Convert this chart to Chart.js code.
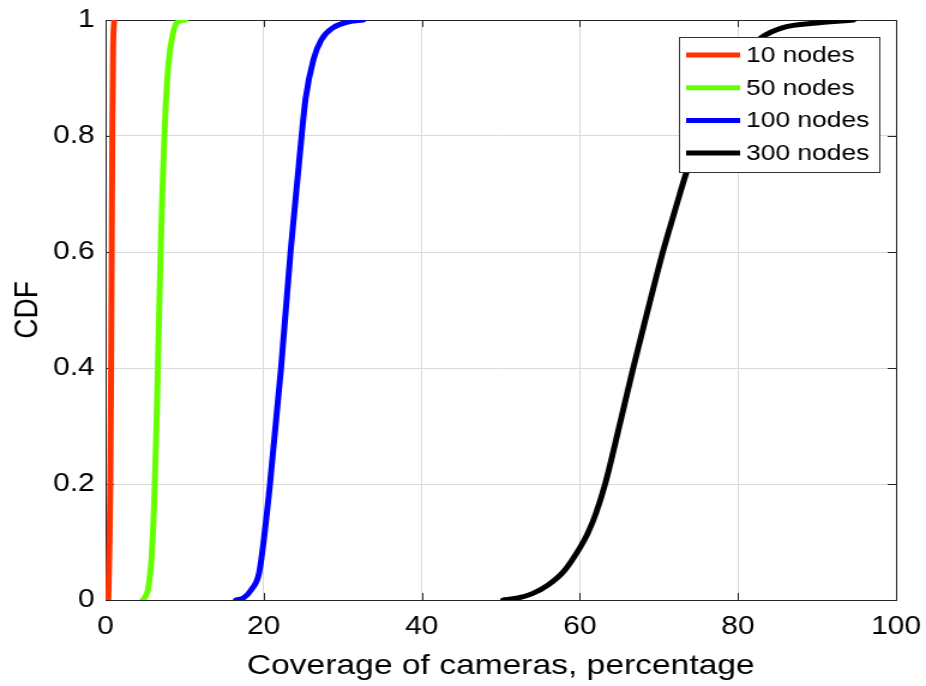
<!DOCTYPE html>
<html>
<head>
<meta charset="utf-8">
<script src="https://cdn.jsdelivr.net/npm/chart.js@4.4.1/dist/chart.umd.min.js"></script>
<style>
  html, body { margin: 0; padding: 0; background: #fff; overflow: hidden; }
</style>
</head>
<body>
<!-- canvas is drawn narrower and widened by css, like the wide original figure -->
<canvas id="cdfChart" width="772" height="686" style="display:block;width:926px;height:686px"></canvas>
<script>
// Coverage (%) vs CDF for each network size
const nodes10X = [0.35, 0.5, 0.6, 0.7, 0.78, 0.85, 0.95, 1.1];
const nodes10Y = [0, 0.1, 0.2, 0.4, 0.6, 0.8, 0.95, 1];

const nodes50X = [4.7, 5.0, 5.4, 5.8, 6.1, 6.4, 6.7, 7.0, 7.3, 7.6, 8.0, 8.5, 9.0, 10.1];
const nodes50Y = [0, 0.005, 0.02, 0.07, 0.15, 0.28, 0.45, 0.62, 0.75, 0.85, 0.93, 0.975, 0.995, 1];

const nodes100X = [16.5, 17.5, 18.4, 19.4, 19.8, 20.8, 22.2, 23.4, 24.8, 25.3, 26.3, 27.3, 28.8, 30.5, 32.6];
const nodes100Y = [0, 0.004, 0.017, 0.045, 0.08, 0.2, 0.4, 0.6, 0.8, 0.864, 0.932, 0.966, 0.987, 0.996, 1];

const nodes300X = [50.3, 52, 54, 56, 58, 60, 61, 62, 63.2, 65, 66.75, 68.6, 70.5, 72, 73.5, 75.2, 76.8, 78.7, 80.7, 83, 85.7, 90, 94.6];
const nodes300Y = [0, 0.003, 0.011, 0.026, 0.05, 0.09, 0.115, 0.148, 0.2, 0.3, 0.4, 0.5, 0.6, 0.67, 0.738, 0.8, 0.85, 0.9, 0.94, 0.97, 0.987, 0.995, 1];

const seriesLabels = ["10 nodes", "50 nodes", "100 nodes", "300 nodes"];
const seriesColors = ["#ff3300", "#66ff00", "#0000ff", "#000000"];

const xTickValues = [0, 20, 40, 60, 80, 100];
const yTickValues = [0, 0.2, 0.4, 0.6, 0.8, 1];

const FONT = "'Liberation Sans', Arial, Helvetica, sans-serif";

function toPoints(xs, ys) {
    return xs.map((x, i) => ({ x: x, y: ys[i] }));
}

const seriesPoints = [
    toPoints(nodes10X, nodes10Y),
    toPoints(nodes50X, nodes50Y),
    toPoints(nodes100X, nodes100Y),
    toPoints(nodes300X, nodes300Y),
];

// box around the plot plus inward tick marks on all four sides
const boxPlugin = {
    id: "boxPlugin",
    beforeDatasetsDraw(chart) {
        const ctx = chart.ctx;
        const a = chart.chartArea;
        const xs = chart.scales.x;
        const ys = chart.scales.y;
        const len = 7;
        ctx.save();
        ctx.strokeStyle = "#262626";
        ctx.lineWidth = 1;
        ctx.beginPath();
        xTickValues.forEach((v) => {
            const px = Math.round(xs.getPixelForValue(v)) + 0.5;
            ctx.moveTo(px, a.bottom);
            ctx.lineTo(px, a.bottom - len);
            ctx.moveTo(px, a.top);
            ctx.lineTo(px, a.top + len);
        });
        yTickValues.forEach((v) => {
            const py = Math.round(ys.getPixelForValue(v)) + 0.5;
            ctx.moveTo(a.left, py);
            ctx.lineTo(a.left + len, py);
            ctx.moveTo(a.right, py);
            ctx.lineTo(a.right - len, py);
        });
        ctx.stroke();
        ctx.strokeRect(Math.round(a.left) + 0.5, Math.round(a.top) + 0.5,
            Math.round(a.right - a.left), Math.round(a.bottom - a.top));
        ctx.restore();
    },
    afterDatasetsDraw(chart) {
        // legend box in the top right corner of the plot
        const ctx = chart.ctx;
        const a = chart.chartArea;
        const boxW = 167;
        const boxH = 135;
        const left = a.right - 14 - boxW;
        const top = a.top + 17;
        const rowH = 32.7;
        ctx.save();
        ctx.fillStyle = "#ffffff";
        ctx.fillRect(left, top, boxW, boxH);
        ctx.strokeStyle = "#333333";
        ctx.lineWidth = 1;
        ctx.strokeRect(Math.round(left) + 0.5, Math.round(top) + 0.5, boxW, boxH);
        ctx.font = "22px " + FONT;
        ctx.textBaseline = "middle";
        ctx.textAlign = "left";
        chart.data.datasets.forEach((ds, i) => {
            const cy = top + 18 + i * rowH;
            ctx.strokeStyle = ds.borderColor;
            ctx.lineWidth = 5;
            ctx.beginPath();
            ctx.moveTo(left + 6, cy);
            ctx.lineTo(left + 51, cy);
            ctx.stroke();
            ctx.fillStyle = "#000";
            ctx.fillText(ds.label, left + 56, cy + 1);
        });
        ctx.restore();
    },
};

const chart = new Chart(document.getElementById("cdfChart"), {
    type: "line",
    data: {
        datasets: seriesLabels.map((label, i) => ({
            label: label,
            data: seriesPoints[i],
            borderColor: seriesColors[i],
            backgroundColor: seriesColors[i],
            borderWidth: 5,
            borderCapStyle: "round",
            borderJoinStyle: "round",
            pointRadius: 0,
            cubicInterpolationMode: "monotone",
            fill: false,
        })),
    },
    options: {
        responsive: false,
        animation: false,
        devicePixelRatio: 1,
        layout: { autoPadding: false, padding: { top: 20, right: 25, left: 0, bottom: 0 } },
        plugins: {
            legend: { display: false },
            tooltip: { enabled: false },
        },
        scales: {
            x: {
                type: "linear",
                min: 0,
                max: 100,
                afterBuildTicks: (s) => { s.ticks = xTickValues.map((v) => ({ value: v })); },
                afterFit: (s) => {
                    s.height = 86;
                    s.paddingLeft = 0;
                    s.paddingRight = 0;
                },
                grid: { color: "#dadada", lineWidth: 1, drawTicks: false },
                border: { display: false },
                ticks: {
                    color: "#000",
                    padding: 12,
                    maxRotation: 0,
                    font: { family: FONT, size: 25 },
                    callback: (v) => String(v),
                },
                title: {
                    display: true,
                    text: "Coverage of cameras, percentage",
                    color: "#000",
                    font: { family: FONT, size: 28 },
                    padding: { top: 0, bottom: 3 },
                },
            },
            y: {
                type: "linear",
                min: 0,
                max: 1,
                afterBuildTicks: (s) => { s.ticks = yTickValues.map((v) => ({ value: v })); },
                afterFit: (s) => {
                    s.width = 88;
                    s.paddingTop = 0;
                    s.paddingBottom = 0;
                },
                grid: { color: "#dadada", lineWidth: 1, drawTicks: false },
                border: { display: false },
                ticks: {
                    color: "#000",
                    padding: 9,
                    font: { family: FONT, size: 25 },
                    callback: (v) => String(v),
                },
                title: {
                    display: true,
                    text: "CDF",
                    color: "#000",
                    font: { family: FONT, size: 28 },
                    padding: { top: 6, bottom: 0 },
                },
            },
        },
    },
    plugins: [boxPlugin],
});
</script>
</body>
</html>
